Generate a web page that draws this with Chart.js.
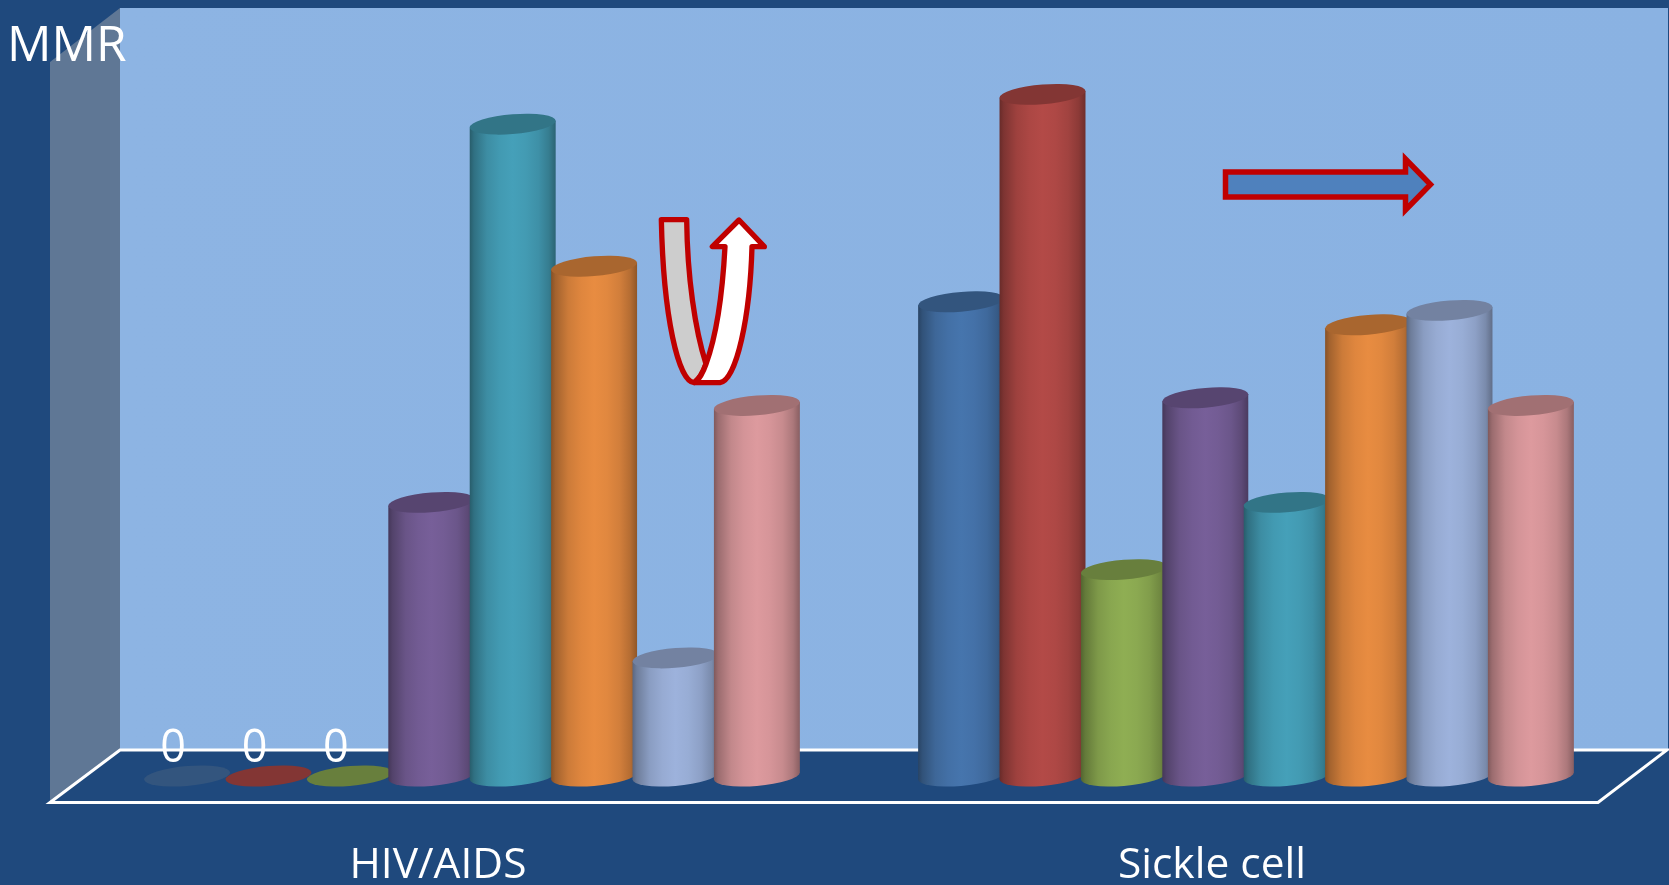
<!DOCTYPE html>
<html>
<head>
<meta charset="utf-8">
<title>MMR</title>
<script src="https://cdn.jsdelivr.net/npm/chart.js@4/dist/chart.umd.min.js"></script>
<style>
  html, body { margin: 0; padding: 0; background: #1f497d; overflow: hidden; }
  canvas { display: block; }
</style>
</head>
<body>
<canvas id="chart" width="1669" height="885"></canvas>
<script>
const categories = ['HIV/AIDS', 'Sickle cell']

const blueValues = [0, 49.4]
const redValues = [0, 71]
const greenValues = [0, 21.5]
const purpleValues = [28.5, 39.4]
const tealValues = [67.9, 28.5]
const orangeValues = [53.1, 47]
const steelValues = [12.3, 48.5]
const pinkValues = [38.6, 38.6]

const yMax = 80
const labelFont = '"Open Sans", sans-serif'

const series = [
  { values: blueValues, color: '#4675ad' },
  { values: redValues, color: '#b34a47' },
  { values: greenValues, color: '#8fae53' },
  { values: purpleValues, color: '#775f99' },
  { values: tealValues, color: '#45a0b9' },
  { values: orangeValues, color: '#e88c41' },
  { values: steelValues, color: '#9db2dc' },
  { values: pinkValues, color: '#dd9a9e' },
]

function shade(hex, f) {
  const n = parseInt(hex.slice(1), 16)
  const r = Math.round((n >> 16 & 255) * f)
  const g = Math.round((n >> 8 & 255) * f)
  const b = Math.round((n & 255) * f)
  return `rgb(${r}, ${g}, ${b})`
}

function polygon(ctx, pts) {
  ctx.beginPath()
  pts.forEach(([x, y], i) => i ? ctx.lineTo(x, y) : ctx.moveTo(x, y))
  ctx.closePath()
}

// back wall, side wall and the floor outline
const roomPlugin = {
  id: 'room',
  beforeDatasetsDraw(chart) {
    const ctx = chart.ctx
    ctx.save()
    const wall = ctx.createLinearGradient(120, 0, 1668, 0)
    wall.addColorStop(0, '#8db4e3')
    wall.addColorStop(1, '#8ab2e2')
    ctx.fillStyle = wall
    ctx.fillRect(120, 8, 1548, 741)

    ctx.fillStyle = '#5f7795'
    polygon(ctx, [[50, 62], [120, 8], [120, 749], [50, 803]])
    ctx.fill()

    ctx.strokeStyle = '#fff'
    ctx.lineWidth = 3
    ctx.lineJoin = 'miter'
    polygon(ctx, [[50, 802.5], [120, 750], [1667, 750], [1598, 802.5]])
    ctx.stroke()
    ctx.restore()
  },
}

// every bar becomes a cylinder, built from the bar element's own x / y / base / width
const cylinderPlugin = {
  id: 'cylinders',
  beforeDatasetsDraw(chart) {
    const ctx = chart.ctx
    const skew = 0.08
    const stops = [[0, .58], [.05, .7], [.2, .88], [.35, .96], [.5, 1], [.65, .97], [.8, .9], [.92, .78], [1, .62]]
    chart.data.datasets.forEach((ds, i) => {
      chart.getDatasetMeta(i).data.forEach((bar) => {
        const rx = bar.width * 0.528
        const ry = rx * 0.23
        const color = bar.options.backgroundColor
        const height = bar.base - bar.y
        ctx.save()
        // the ends are skewed ellipses, so both sides stay vertical
        ctx.translate(bar.x, bar.base)
        ctx.transform(1, -skew, 0, 1, 0, 0)
        if (height > 1) {
          const grad = ctx.createLinearGradient(-rx, 0, rx, 0)
          stops.forEach(([at, f]) => grad.addColorStop(at, shade(color, f)))
          ctx.fillStyle = grad
          ctx.beginPath()
          ctx.ellipse(0, 0, rx, ry, 0, Math.PI, 0, true)
          ctx.lineTo(rx, -height)
          ctx.lineTo(-rx, -height)
          ctx.closePath()
          ctx.fill()
        }
        ctx.fillStyle = shade(color, .73)
        ctx.beginPath()
        ctx.ellipse(0, -height, rx, ry, 0, 0, Math.PI * 2)
        ctx.fill()
        ctx.restore()
      })
    })
    return false
  },
}

// red outlined callout arrows, sitting on top of the plot
function drawUturn(ctx) {
  ctx.save()
  ctx.translate(620, 190)
  ctx.scale(1 / 3, 1 / 3)
  ctx.strokeStyle = '#c00000'
  ctx.lineWidth = 16
  ctx.lineJoin = 'round'

  ctx.fillStyle = '#cdcdcd'
  ctx.beginPath()
  ctx.moveTo(124, 89)
  ctx.lineTo(200, 89)
  ctx.bezierCurveTo(202, 260, 225, 420, 258, 522)
  ctx.bezierCurveTo(250, 545, 240, 565, 222, 578)
  ctx.bezierCurveTo(175, 575, 130, 380, 124, 89)
  ctx.closePath()
  ctx.fill()
  ctx.stroke()

  ctx.fillStyle = '#fff'
  ctx.beginPath()
  ctx.moveTo(225, 578)
  ctx.lineTo(300, 578)
  ctx.bezierCurveTo(350, 570, 390, 380, 396, 170)
  ctx.lineTo(433, 170)
  ctx.lineTo(357, 90)
  ctx.lineTo(277, 170)
  ctx.lineTo(315, 170)
  ctx.bezierCurveTo(308, 300, 292, 430, 258, 522)
  ctx.bezierCurveTo(250, 545, 240, 565, 225, 578)
  ctx.closePath()
  ctx.fill()
  ctx.stroke()
  ctx.restore()
}

function drawRightArrow(ctx) {
  ctx.save()
  ctx.strokeStyle = '#c00000'
  ctx.fillStyle = '#4f81bd'
  ctx.lineWidth = 5.5
  ctx.lineJoin = 'miter'
  polygon(ctx, [[1225.5, 172], [1405.5, 172], [1405.5, 159], [1430.5, 184.5], [1405.5, 210], [1405.5, 197], [1225.5, 197]])
  ctx.fill()
  ctx.stroke()
  ctx.restore()
}

const textPlugin = {
  id: 'texts',
  // afterDraw, because the cylinder plugin cancels the normal dataset hooks
  afterDraw(chart) {
    const ctx = chart.ctx
    const xScale = chart.scales.x
    ctx.save()
    ctx.fillStyle = '#fff'
    ctx.textBaseline = 'alphabetic'

    // zero labels for the empty bars
    ctx.textAlign = 'center'
    ctx.font = `45px ${labelFont}`
    chart.data.datasets.forEach((ds, i) => {
      chart.getDatasetMeta(i).data.forEach((bar, j) => {
        if (ds.data[j] === 0) ctx.fillText('0', bar.x - 14, 762)
      })
    })

    drawUturn(ctx)
    drawRightArrow(ctx)

    // category names sit on the front edge of the floor, so left of the bar groups
    ctx.fillStyle = '#fff'
    ctx.font = `42.5px ${labelFont}`
    categories.forEach((name, i) => {
      ctx.fillText(name, xScale.getPixelForValue(i) - 34, 878)
    })

    ctx.textAlign = 'left'
    ctx.font = `49.5px ${labelFont}`
    ctx.fillText('MMR', 7, 61)
    ctx.restore()
  },
}

new Chart(document.getElementById('chart'), {
  type: 'bar',
  data: {
    labels: categories,
    datasets: series.map((s) => ({
      data: s.values,
      backgroundColor: s.color,
      borderWidth: 0,
      categoryPercentage: 0.8413,
      barPercentage: 1,
    })),
  },
  options: {
    responsive: false,
    animation: false,
    events: [],
    layout: { padding: { left: 85, right: 36, top: 8, bottom: 109 } },
    plugins: { legend: { display: false }, tooltip: { enabled: false } },
    scales: {
      x: { display: false },
      y: { display: false, min: 0, max: yMax },
    },
  },
  plugins: [roomPlugin, cylinderPlugin, textPlugin],
})
</script>
</body>
</html>
